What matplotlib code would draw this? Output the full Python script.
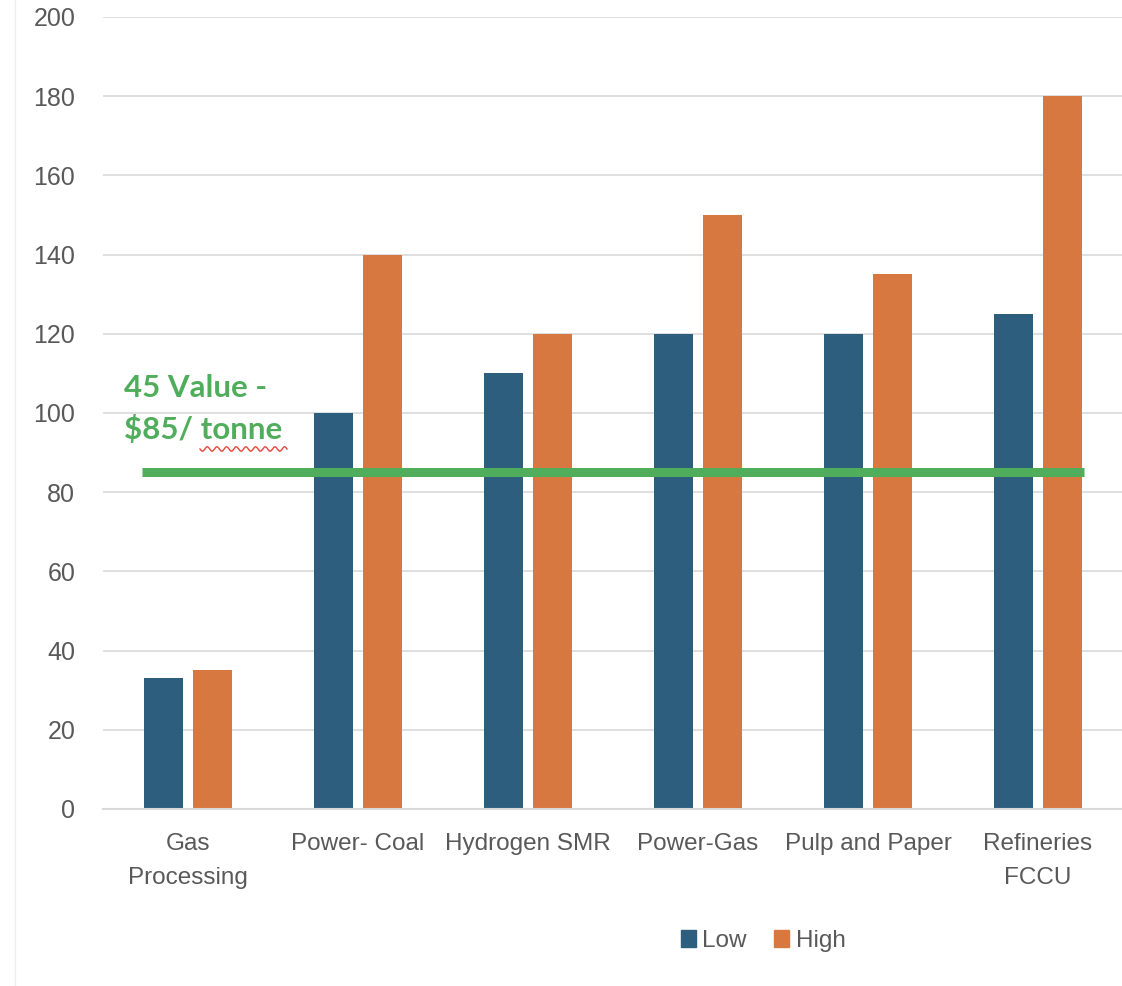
import matplotlib.pyplot as plt
import numpy as np
from matplotlib.lines import Line2D
from matplotlib.patches import Patch

categories = ["Gas\nProcessing", "Power- Coal", "Hydrogen SMR", "Power-Gas",
              "Pulp and Paper", "Refineries\nFCCU"]
low = [33, 100, 110, 120, 120, 125]
high = [35, 140, 120, 150, 135, 180]
threshold = 85
threshold_label = "45 Value -\n$85/ tonne"
yticks = list(range(0, 201, 20))

LOW_COLOR = "#2E5E7E"
HIGH_COLOR = "#D87841"
GREEN = "#4FAD5B"
TEXT = "#595959"
GRID = "#D9D9D9"

plt.rcParams["font.family"] = ["Liberation Sans", "DejaVu Sans"]

fig = plt.figure(figsize=(11.22, 9.86), dpi=100)
ax = fig.add_axes([103 / 1122, 177 / 986, 1020 / 1122, 792 / 986])

x = np.arange(len(categories))
width = 0.224
offset = 0.144
ax.bar(x - offset, low, width, color=LOW_COLOR, zorder=3, label="Low")
ax.bar(x + offset, high, width, color=HIGH_COLOR, zorder=3, label="High")

ax.set_xlim(-0.5, len(categories) - 0.5)
ax.set_ylim(0, 200)
ax.set_yticks(yticks)
ax.set_xticks(x)
ax.set_xticklabels(categories, linespacing=1.7)
ax.tick_params(axis="both", length=0, colors=TEXT)
ax.tick_params(axis="y", pad=20, labelsize=18)
ax.tick_params(axis="x", pad=17, labelsize=17.5)
ax.grid(axis="y", color=GRID, linewidth=1.2, zorder=0)
for side in ["top", "right", "left"]:
    ax.spines[side].set_visible(False)
ax.spines["bottom"].set_color(GRID)
ax.spines["bottom"].set_linewidth(1.5)
ax.spines["bottom"].set_zorder(4)

# threshold line and its label
ax.hlines(threshold, -0.27, 5.27, color=GREEN, linewidth=6.5, zorder=5)
ax.text(-0.378, 109.8, threshold_label, color=GREEN, fontsize=22.5,
        fontweight="bold", family=["Lato", "DejaVu Sans"],
        va="top", ha="left", linespacing=1.55, zorder=6)

# red spell-check squiggle under "tonne"
sx = np.linspace(200, 287, 200)
sy = 449 + 2.2 * np.sin((sx - 200) / 87 * 2 * np.pi * 9)
fig.add_artist(Line2D(sx / 1122, 1 - sy / 986, color="#E8443A", linewidth=1.0))

# faint page edge on the left
fig.add_artist(Line2D([15 / 1122, 15 / 1122], [0.0, 1.0], color="#EEEEEE", linewidth=1.0))

handles = [Patch(color=LOW_COLOR, label="Low"), Patch(color=HIGH_COLOR, label="High")]
fig.legend(handles=handles, loc="center", bbox_to_anchor=(763 / 1122, 1 - 941 / 986),
           ncol=2, frameon=False, fontsize=17.5, handlelength=0.65, handleheight=0.65,
           handletextpad=0.25, columnspacing=1.1, labelcolor=TEXT)

fig.savefig("out.png", dpi=100)
